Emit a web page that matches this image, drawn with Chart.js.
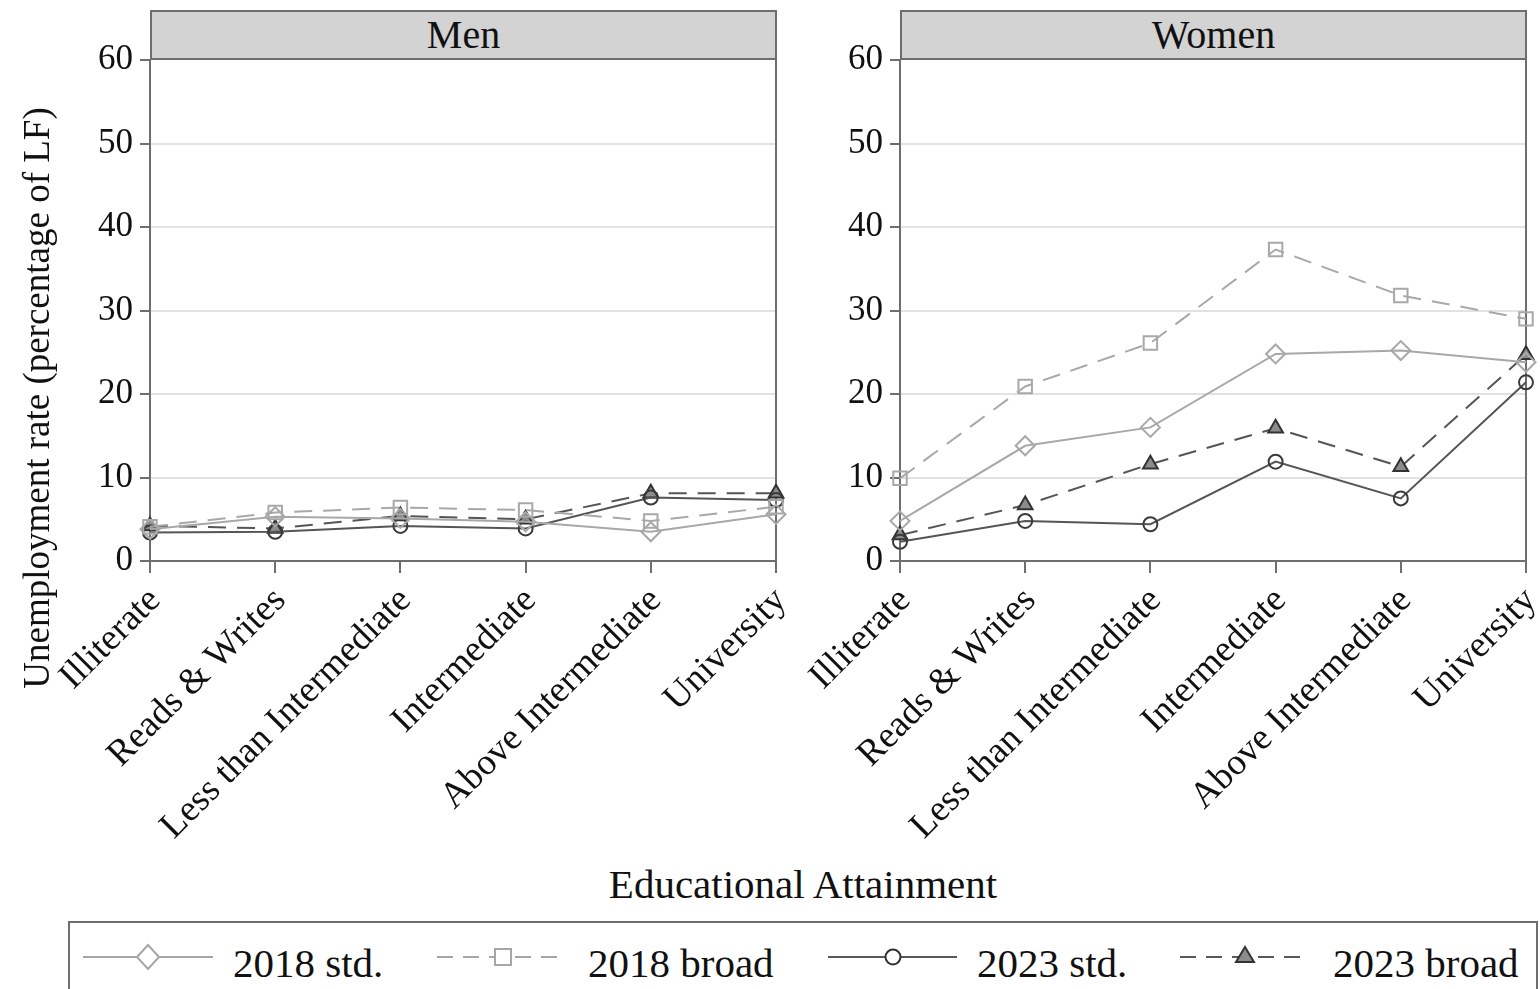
<!DOCTYPE html>
<html><head><meta charset="utf-8">
<script src="https://cdn.jsdelivr.net/npm/chart.js@4"></script>
<style>
html,body{margin:0;padding:0;background:#fff;}
body{width:1540px;height:989px;overflow:hidden;position:relative;font-family:"Liberation Serif","DejaVu Serif",serif;color:#111;}
canvas{position:absolute;top:0;}
.strip{position:absolute;top:10px;height:50px;background:#d3d3d3;border:2px solid #6e6e6e;box-sizing:border-box;text-align:center;font-size:40px;line-height:46px;color:#111;}
#xtitle{position:absolute;left:503px;width:600px;top:864px;text-align:center;font-size:41px;line-height:41px;}
#ytitle{position:absolute;left:37px;top:398px;width:700px;height:40px;margin-left:-350px;margin-top:-20px;text-align:center;font-size:37px;line-height:40px;transform:rotate(-90deg);white-space:nowrap;}
#legend{position:absolute;left:68px;top:921px;width:1470px;height:80px;border:2px solid #6e6e6e;box-sizing:border-box;}
.lt{position:absolute;top:943px;font-size:41px;line-height:41px;white-space:nowrap;}
.ls{position:absolute;top:942px;}
</style>
</head><body>
<canvas id="men" width="790" height="860" style="left:0px"></canvas>
<canvas id="women" width="790" height="860" style="left:750px"></canvas>
<div class="strip" style="left:150px;width:627px;">Men</div>
<div class="strip" style="left:900px;width:627px;">Women</div>
<div id="ytitle">Unemployment rate (percentage of LF)</div>
<div id="xtitle">Educational Attainment</div>
<div id="legend"></div>
<svg class="ls" style="left:80px" width="140" height="30"><line x1="3" y1="15" x2="133" y2="15" stroke="#a6a6a6" stroke-width="2"/><polygon points="68,3 79,15 68,27 57,15" fill="#fff" stroke="#a6a6a6" stroke-width="2"/></svg>
<span class="lt" style="left:233px">2018 std.</span>
<svg class="ls" style="left:434px" width="140" height="30"><line x1="3" y1="15" x2="133" y2="15" stroke="#a6a6a6" stroke-width="2" stroke-dasharray="16,10"/><rect x="61" y="7" width="16" height="16" fill="#fff" stroke="#a6a6a6" stroke-width="2"/></svg>
<span class="lt" style="left:588px">2018 broad</span>
<svg class="ls" style="left:825px" width="140" height="30"><line x1="3" y1="15" x2="132" y2="15" stroke="#5a5a5a" stroke-width="2"/><circle cx="68" cy="15" r="7.5" fill="#fff" stroke="#333" stroke-width="2"/></svg>
<span class="lt" style="left:977px">2023 std.</span>
<svg class="ls" style="left:1177px" width="140" height="30"><line x1="3" y1="15" x2="133" y2="15" stroke="#5a5a5a" stroke-width="2" stroke-dasharray="16,10"/><polygon points="68,5 77,20 59,20" fill="#8c8c8c" stroke="#333" stroke-width="2"/></svg>
<span class="lt" style="left:1333px">2023 broad</span>
<script>
const categories = ["Illiterate","Reads & Writes","Less than Intermediate","Intermediate","Above Intermediate","University"];
const yTickValues = [0,10,20,30,40,50,60];
const seriesNames = ["2018 std.","2018 broad","2023 std.","2023 broad"];
const men2018Std   = [3.8, 5.3, 5.1, 4.7, 3.5, 5.6];
const men2018Broad = [4.1, 5.8, 6.4, 6.1, 4.8, 6.5];
const men2023Std   = [3.4, 3.5, 4.2, 3.9, 7.6, 7.3];
const men2023Broad = [4.2, 3.9, 5.4, 5.0, 8.1, 8.1];
const women2018Std   = [4.8, 13.8, 16.0, 24.8, 25.2, 23.8];
const women2018Broad = [9.9, 20.9, 26.1, 37.3, 31.8, 29.0];
const women2023Std   = [2.3, 4.8, 4.4, 11.9, 7.5, 21.4];
const women2023Broad = [3.1, 6.7, 11.6, 15.9, 11.3, 24.7];

const LIGHT = '#a8a8a8', DARK = '#555555', FRAME = '#6e6e6e';
const FONT = "'Liberation Serif', 'DejaVu Serif', serif";

function makeDatasets(a,b,c,d){
  return [
    {label:seriesNames[0],data:a,borderColor:LIGHT,borderWidth:2,pointStyle:'rectRot',pointRadius:9.5,pointBorderWidth:2,pointBorderColor:LIGHT,pointBackgroundColor:'rgba(255,255,255,0)',tension:0,clip:false},
    {label:seriesNames[1],data:b,borderColor:LIGHT,borderWidth:2,borderDash:[18,11],pointStyle:'rect',pointRadius:9.5,pointBorderWidth:2,pointBorderColor:LIGHT,pointBackgroundColor:'rgba(255,255,255,0)',tension:0,clip:false},
    {label:seriesNames[2],data:c,borderColor:DARK,borderWidth:2,pointStyle:'circle',pointRadius:7,pointBorderWidth:2,pointBorderColor:'#3a3a3a',pointBackgroundColor:'rgba(255,255,255,0)',tension:0,clip:false},
    {label:seriesNames[3],data:d,borderColor:DARK,borderWidth:2,borderDash:[18,11],pointStyle:'triangle',pointRadius:8.5,pointBorderWidth:2,pointBorderColor:'#333',pointBackgroundColor:'#8c8c8c',tension:0,clip:false}
  ];
}

const framePlugin = {
  id:'frame',
  beforeDatasetsDraw(chart){
    const {ctx, chartArea:a} = chart;
    ctx.save(); ctx.strokeStyle = FRAME; ctx.lineWidth = 2;
    ctx.beginPath(); ctx.moveTo(a.right, a.top); ctx.lineTo(a.right, a.bottom + 1); ctx.stroke();
    ctx.restore();
  }
};

function makeChart(id, datasets){
  return new Chart(document.getElementById(id), {
    type:'line',
    data:{labels:categories, datasets},
    plugins:[framePlugin],
    options:{
      responsive:false, animation:false, devicePixelRatio:1,
      layout:{padding:{left:0,top:60,right:14,bottom:0}},
      plugins:{legend:{display:false},tooltip:{enabled:false}},
      scales:{
        x:{
          afterFit(s){ s.height = 860 - 561; s.paddingLeft = 0; s.paddingRight = 0; },
          grid:{drawOnChartArea:false, drawTicks:true, tickLength:12, tickColor:FRAME, lineWidth:2},
          border:{color:FRAME, width:2},
          ticks:{autoSkip:false, maxRotation:45, minRotation:45, padding:6, labelOffset:5, color:'#111', font:{family:FONT,size:37}}
        },
        y:{
          min:0, max:60,
          afterFit(s){ s.width = 150; s.paddingTop = 0; s.paddingBottom = 0; },
          afterBuildTicks(s){ s.ticks = yTickValues.map(v=>({value:v})); },
          grid:{color:(c)=> (c.tick && (c.tick.value===0 || c.tick.value===60)) ? 'rgba(0,0,0,0)' : '#e2e2e2', lineWidth:2, tickLength:10, tickColor:FRAME, drawTicks:true},
          border:{color:FRAME, width:2},
          ticks:{padding:7, color:'#111', font:{family:FONT,size:35}}
        }
      }
    }
  });
}

makeChart('men', makeDatasets(men2018Std, men2018Broad, men2023Std, men2023Broad));
makeChart('women', makeDatasets(women2018Std, women2018Broad, women2023Std, women2023Broad));
</script>
</body></html>
